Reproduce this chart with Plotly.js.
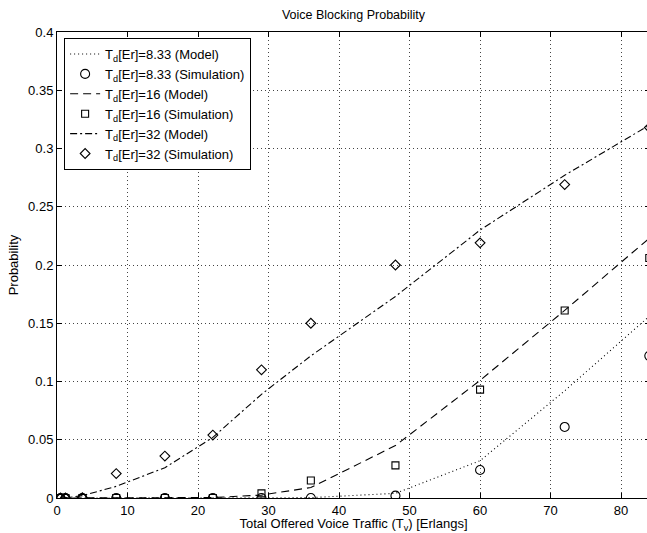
<!DOCTYPE html>
<html>
<head>
<meta charset="utf-8">
<script src="https://cdn.plot.ly/plotly-3.0.1.min.js"></script>
<style>
html,body{margin:0;padding:0;overflow:hidden;background:#fff;}
#chart{width:650px;height:533px;}
</style>
</head>
<body>
<div id="chart"></div>
<script>
// Offered voice traffic (Erlangs)
const traffic = [0.5, 1.2, 3.6, 8.4, 15.3, 22.1, 29, 36, 48, 60, 72, 84];

// Model curves
const model833 = [0, 0, 0, 0, 0, 0, 0, 0.0003, 0.004, 0.032, 0.092, 0.156];
const model16  = [0, 0, 0, 0, 0, 0.0004, 0.0025, 0.009, 0.045, 0.101, 0.161, 0.223];
const model32  = [0, 0.0001, 0.002, 0.010, 0.026, 0.052, 0.089, 0.122, 0.173, 0.230, 0.277, 0.32];

// Simulation results
const sim833 = [0, 0, 0, 0, 0, 0, 0, 0, 0.002, 0.024, 0.061, 0.122];
const sim16  = [0, 0, 0, 0, 0, 0, 0.004, 0.015, 0.028, 0.093, 0.161, 0.206];
const sim32  = [0, 0, 0.0003, 0.021, 0.036, 0.054, 0.11, 0.15, 0.2, 0.219, 0.269, 0.318];

const names = [
  'T<sub>d</sub>[Er]=8.33 (Model)',
  'T<sub>d</sub>[Er]=8.33 (Simulation)',
  'T<sub>d</sub>[Er]=16 (Model)',
  'T<sub>d</sub>[Er]=16 (Simulation)',
  'T<sub>d</sub>[Er]=32 (Model)',
  'T<sub>d</sub>[Er]=32 (Simulation)'
];
const xTickVals = [0, 10, 20, 30, 40, 50, 60, 70, 80];
const yTickVals = [0, 0.05, 0.1, 0.15, 0.2, 0.25, 0.3, 0.35, 0.4];
const yTickText = ['0', '0.05', '0.1', '0.15', '0.2', '0.25', '0.3', '0.35', '0.4'];

const blk = '#000';
function lineTrace(y, name, dash) {
  return {x: traffic, y: y, name: name, mode: 'lines', type: 'scatter',
          line: {color: blk, width: 1.1, dash: dash}};
}
function markTrace(y, name, symbol, size) {
  return {x: traffic, y: y, name: name, mode: 'markers', type: 'scatter',
          marker: {symbol: symbol, size: size, color: blk,
                   line: {color: blk, width: 1.1}}};
}

const data = [
  lineTrace(model833, names[0], '1px,3px'),
  markTrace(sim833, names[1], 'circle-open', 9),
  lineTrace(model16, names[2], '8px,5px'),
  markTrace(sim16, names[3], 'square-open', 7),
  lineTrace(model32, names[4], '7px,3px,2px,3px'),
  markTrace(sim32, names[5], 'diamond-open', 7.5)
];

const fam = '"Liberation Sans", Arial, Helvetica, sans-serif';
const font = {family: fam, size: 13, color: '#000'};

const layout = {
  width: 650, height: 533,
  margin: {l: 57, r: 0, t: 32, b: 35, pad: 0},
  paper_bgcolor: '#fff', plot_bgcolor: '#fff',
  font: font,
  showlegend: true,
  title: {text: 'Voice Blocking Probability', font: {family: fam, size: 12.5, color: '#000'},
          x: 0.5, xref: 'paper', y: 1, yref: 'container', yanchor: 'top', pad: {t: 10}},
  xaxis: {
    range: [0, 84.1], tickvals: xTickVals, ticktext: xTickVals.map(String),
    ticks: 'inside', ticklen: 5, tickcolor: blk, showline: true, linecolor: blk, linewidth: 1,
    mirror: 'ticks', showgrid: true, gridcolor: '#444', griddash: '1px,3px', gridwidth: 1,
    zeroline: false, tickfont: font,
    title: {text: 'Total Offered Voice Traffic (T<sub>v</sub>) [Erlangs]', font: {family: fam, size: 13, color: '#000'}, standoff: 1},
    automargin: false
  },
  yaxis: {
    range: [0, 0.4], tickvals: yTickVals, ticktext: yTickText,
    ticks: 'inside', ticklen: 5, tickcolor: blk, showline: true, linecolor: blk, linewidth: 1,
    mirror: 'ticks', showgrid: true, gridcolor: '#444', griddash: '1px,3px', gridwidth: 1,
    zeroline: false, tickfont: font,
    title: {text: 'Probability', font: {family: fam, size: 13, color: '#000'}, standoff: 6},
    automargin: false
  },
  legend: {
    x: 0.012, y: 0.987, xanchor: 'left', yanchor: 'top',
    bgcolor: '#fff', bordercolor: blk, borderwidth: 1,
    font: {family: fam, size: 13, color: '#000'},
    tracegroupgap: 0, itemwidth: 30
  }
};

Plotly.newPlot('chart', data, layout, {displayModeBar: false, staticPlot: true});
</script>
</body>
</html>
